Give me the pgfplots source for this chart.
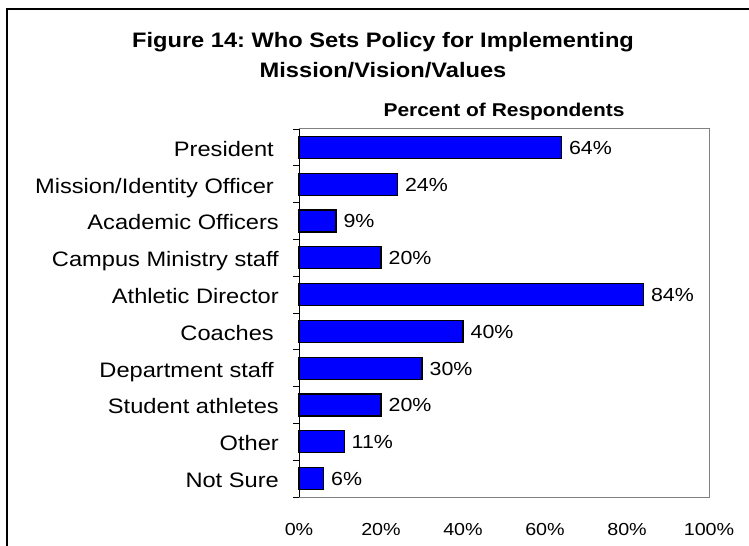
\documentclass[border=0pt]{standalone}
\usepackage{pgfplots}
\pgfplotsset{compat=1.18}
\usepackage{fontspec}
\setmainfont{Liberation Sans}[FakeStretch=1.13]
\definecolor{barblue}{RGB}{0,0,255}
\definecolor{framegray}{RGB}{128,128,128}
\frenchspacing
\begin{document}
\frenchspacing
\begin{tikzpicture}[x=1bp,y=1bp]
\useasboundingbox (0,0) rectangle (749,546);
\draw[line width=1.5bp] (7,0) -- (7,537) -- (749,537);
\node[font=\fontsize{21}{25}\selectfont\bfseries, anchor=base] at (383,498) {Figure 14: Who Sets Policy for Implementing};
\node[font=\fontsize{21}{25}\selectfont\bfseries, anchor=base] at (383,468) {Mission/Vision/Values};
\node[font=\fontsize{18.6}{22}\selectfont\bfseries, anchor=base] at (504,429) {Percent of Respondents};
\begin{axis}[
  at={(299bp,49bp)}, anchor=south west,
  width=410bp, height=368bp, scale only axis,
  xbar, bar width=0.6,
  xmin=0, xmax=100, ymin=-0.5, ymax=9.5,
  y dir=reverse,
  clip=false,
  /pgf/number format/assume math mode=true,
  axis line style={draw=framegray, line width=1bp},
  xtick={0,20,40,60,80,100},
  xticklabels={0\%,20\%,40\%,60\%,80\%,100\%},
  xticklabel style={font=\fontsize{17.5}{20}\selectfont, anchor=base, inner sep=0pt, yshift=-38bp},
  ytick={0,...,9},
  yticklabels={President\hspace*{5bp},Mission/Identity Officer\hspace*{5bp},Academic Officers,Campus Ministry staff,Athletic Director,Coaches\hspace*{5bp},Department staff\hspace*{5bp},Student athletes,Other,Not Sure},
  yticklabel style={font=\fontsize{21}{25}\selectfont, anchor=base east, inner sep=0pt, xshift=-20bp, yshift=-9bp},
  major tick length=0pt,
  extra y ticks={-0.5,0.5,1.5,2.5,3.5,4.5,5.5,6.5,7.5,8.5,9.5},
  extra y tick labels={},
  extra y tick style={major tick length=6bp, tick align=outside, tick style={draw=black, line width=0.8bp}},
  ytick pos=left, xtick pos=bottom,
  nodes near coords={\pgfmathprintnumber{\pgfplotspointmeta}\%},
  nodes near coords align={horizontal},
  every node near coord/.append style={font=\fontsize{19}{22}\selectfont, anchor=base west, inner sep=0pt, xshift=7bp, yshift=-7bp, black},
]
\addplot[fill=barblue, draw=black, line width=1.2bp] coordinates {
  (64,0) (24,1) (9,2) (20,3) (84,4) (40,5) (30,6) (20,7) (11,8) (6,9)
};
\draw[black, line width=1bp] (rel axis cs:0,0) -- (rel axis cs:0,1);
\end{axis}
\end{tikzpicture}
\end{document}
